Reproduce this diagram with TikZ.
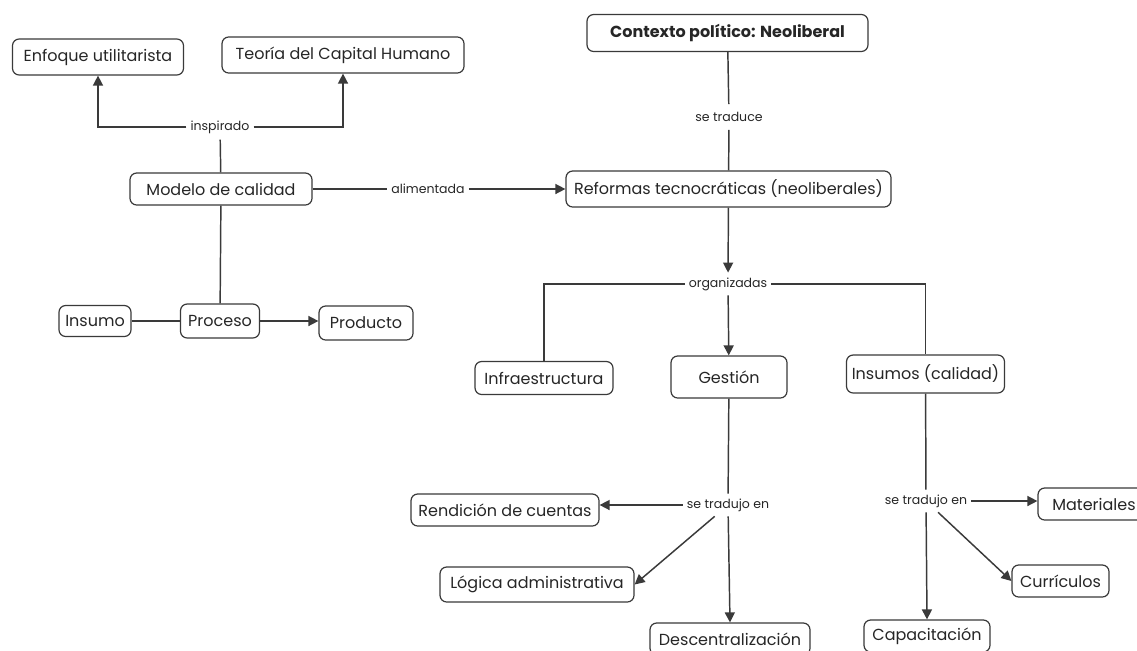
\documentclass[tikz,border=0pt]{standalone}
\usepackage{fontspec}
\setmainfont{Poppins}
\usetikzlibrary{arrows.meta}
\definecolor{ink}{HTML}{262626}
\definecolor{edge}{HTML}{3A3A3A}
\begin{document}
\begin{tikzpicture}[x=0.75pt,y=-0.75pt,
  concept/.style 2 args={draw=edge, line width=0.9pt, rounded corners=5pt, fill=white, text=ink,
    font=\fontsize{12}{14}\selectfont, minimum width=#1*0.75pt, minimum height=#2*0.75pt, inner sep=0pt},
  lab/.style={text=ink, font=\fontsize{9.4}{11}\selectfont, inner xsep=3pt, inner ysep=3.5pt},
  conn/.style={draw=edge, line width=1.1pt},
  arr/.style={conn, -{Triangle[length=7.5pt,width=7.5pt]}}]
\clip (0,0) rectangle (1137,650);
\fill[white] (0,0) rectangle (1137,650);

% concepts
\node[concept={171}{36}] (enf) at (98,57) {Enfoque utilitarista};
\node[concept={242}{36}] (teo) at (343,55) {Teoría del Capital Humano};
\node[concept={182}{32}] (mod) at (221,189) {Modelo de calidad};
\node[concept={72}{31}] (ins) at (95,321) {Insumo};
\node[concept={79}{34}] (pro) at (220,321) {Proceso};
\node[concept={94}{34}] (prod) at (366,323) {Producto};
\node[concept={281}{37}, font=\fontsize{12}{14}\selectfont\bfseries] (ctx) at (727.5,33) {Contexto político: Neoliberal};
\node[concept={325}{36}] (ref) at (728.5,189) {Reformas tecnocráticas (neoliberales)};
\node[concept={138}{33}] (inf) at (544,378) {Infraestructura};
\node[concept={116}{42}] (ges) at (729,377) {Gestión};
\node[concept={158}{38}] (insc) at (925.5,374) {Insumos (calidad)};
\node[concept={188}{32}] (ren) at (505,510) {Rendición de cuentas};
\node[concept={194}{35}] (log) at (537,584.5) {Lógica administrativa};
\node[concept={160}{32}] (des) at (730,639) {Descentralización};
\node[concept={112}{32}] (mat) at (1094,504) {Materiales};
\node[concept={97}{32}] (cur) at (1060.5,581) {Currículos};
\node[concept={126}{32}] (cap) at (927,636) {Capacitación};

% linking phrases
\node[lab, inner ysep=4.5pt] (insp) at (220,127) {inspirado};
\node[lab] (alim) at (428,189) {alimentada};
\node[lab, inner ysep=6pt] (str) at (729,117) {se traduce};
\node[lab] (org) at (728,284) {organizadas};
\node[lab] (stA) at (728,505) {se tradujo en};
\node[lab] (stB) at (926,501) {se tradujo en};

% connectors
\draw[conn] (mod) -- (insp);
\draw[arr] (insp.west) -| (enf.south);
\draw[arr] (insp.east) -| (teo.south);
\draw[conn] (mod) -- (pro);
\draw[conn] (ins) -- (pro);
\draw[arr] (pro) -- (prod.west |- pro.east);
\draw[conn] (mod) -- (alim);
\draw[arr] (alim) -- (ref);
\draw[conn] (ctx) -- (str);
\draw[conn] (str) -- (ref);
\draw[arr] (ref) -- (org);
\draw[conn] (org.west) -| (inf.north);
\draw[conn] (org.east) -| (insc.north);
\draw[arr] (org) -- (ges);
\draw[conn] (ges) -- (stA);
\draw[arr] (stA) -- (ren.east |- stA.west);
\draw[arr] (stA) -- (log.east);
\draw[arr] (stA) -- (des.north);
\draw[conn] (insc) -- (stB);
\draw[arr] (stB) -- (mat.west |- stB.east);
\draw[arr] (stB) -- (cur.west);
\draw[arr] (stB) -- (cap.north);
\end{tikzpicture}
\end{document}
